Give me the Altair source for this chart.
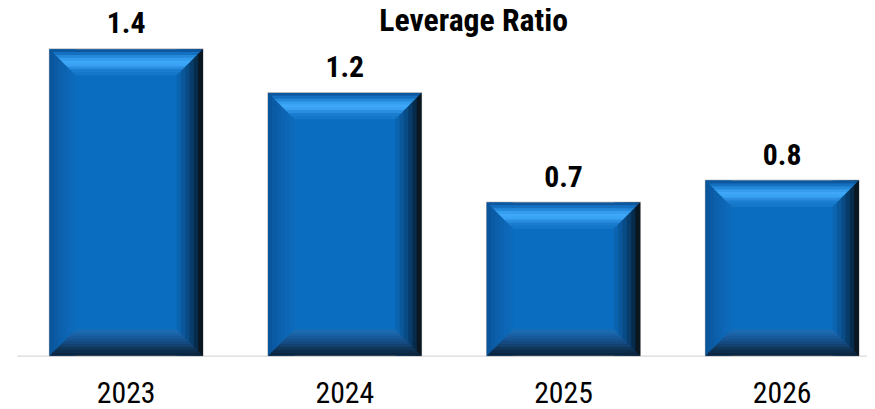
import altair as alt
import pandas as pd

years = ["2023", "2024", "2025", "2026"]
ratios = [1.4, 1.2, 0.7, 0.8]
labels = ["1.4", "1.2", "0.7", "0.8"]
zeros = [0, 0, 0, 0]
title_text = ["Leverage Ratio"]

df = pd.DataFrame({"year": years, "ratio": ratios, "label": labels, "zero": zeros})
tdf = pd.DataFrame({"t": title_text})

FONT = "Liberation Sans Narrow, Roboto Condensed, DejaVu Sans Condensed, sans-serif"
BW = 154.5
BEV = 26
YDOM = [0, 1.58]

xs = alt.X("year:N", sort=years,
           scale=alt.Scale(paddingInner=0.3, paddingOuter=0.0938, align=0.797),
           axis=alt.Axis(title=None, labelAngle=0, ticks=False, domain=True,
                         domainColor="#d9d9d9", domainWidth=1.5,
                         labelFont=FONT, labelFontSize=30, labelColor="#000000",
                         labelBaseline="alphabetic", labelPadding=47, grid=False))
ys = alt.Y("ratio:Q", scale=alt.Scale(domain=YDOM, nice=False), axis=None)
y0 = alt.Y("zero:Q", scale=alt.Scale(domain=YDOM, nice=False), axis=None)
y20 = alt.Y2("zero:Q")

base = alt.Chart(df)

face = base.mark_bar(color="#0b6dc0", stroke="#a3a3a3", strokeWidth=1.5).encode(
    x=xs, y=ys, y2=y20)

layers = [face]

left_colors = ["#0a569c", "#0b5ba4", "#0c60ab", "#0c64b1", "#0d67b6", "#0d6aba"]
right_colors = ["#0b64b0", "#0a589b", "#094b85", "#083c6a", "#072b4b", "#0a1620"]
m = len(left_colors)
sw = BEV / m
for i in range(m):
    layers.append(base.mark_bar(width=sw + 0.6, xOffset=-BW / 2 + (i + 0.5) * sw,
                                color=left_colors[i]).encode(x=xs, y=ys, y2=y20))
    layers.append(base.mark_bar(width=sw + 0.6, xOffset=BW / 2 - BEV + (i + 0.5) * sw,
                                color=right_colors[i]).encode(x=xs, y=ys, y2=y20))

top_colors = ["#0c58a0", "#1670c0", "#2589da", "#349ded", "#3ea7f7", "#3aa2f2", "#2a8ddf", "#1b7dcf", "#1577c8"]
bot_colors = ["#1b6bb3", "#1a63a7", "#185a9b", "#16528e", "#144a80", "#124170", "#0f3659", "#0d2d4c", "#0c2640"]

n = len(top_colors)
half = BW / 2
s = 1 / half
for i in range(n):
    t0 = BEV * i / n
    t1 = BEV * (i + 1) / n + 0.6
    hh = (t1 - t0) / 2 * s
    p = (f"M{-(half - t0) * s:.5f},{-hh:.5f}L{(half - t0) * s:.5f},{-hh:.5f}"
         f"L{(half - t1) * s:.5f},{hh:.5f}L{-(half - t1) * s:.5f},{hh:.5f}Z")
    layers.append(base.mark_point(shape=p, size=BW * BW, filled=True, opacity=1, strokeWidth=0,
                                  color=top_colors[i], yOffset=(t0 + t1) / 2).encode(x=xs, y=ys))
    pb = (f"M{-(half - t1) * s:.5f},{-hh:.5f}L{(half - t1) * s:.5f},{-hh:.5f}"
          f"L{(half - t0) * s:.5f},{hh:.5f}L{-(half - t0) * s:.5f},{hh:.5f}Z")
    layers.append(base.mark_point(shape=pb, size=BW * BW, filled=True, opacity=1, strokeWidth=0,
                                  color=bot_colors[n - 1 - i], yOffset=-(t0 + t1) / 2).encode(x=xs, y=y0))

text = base.mark_text(font=FONT, fontSize=30, fontWeight="bold", color="#000000",
                      baseline="alphabetic", dy=-16).encode(x=xs, y=ys, text="label:N")
layers.append(text)

title = alt.Chart(tdf).mark_text(font=FONT, fontSize=32, fontWeight="bold", color="#000000",
                                 baseline="alphabetic", align="center").encode(
    x=alt.value(461), y=alt.value(21), text="t:N")
layers.append(title)

chart = alt.layer(*layers).properties(
    width=858, height=349,
    autosize=alt.AutoSizeParams(type="none"),
    padding={"left": 9, "top": 0, "right": 0, "bottom": 52},
).configure_view(strokeWidth=0)

chart.save("out.html", embed_options={"renderer": "svg", "actions": False})
